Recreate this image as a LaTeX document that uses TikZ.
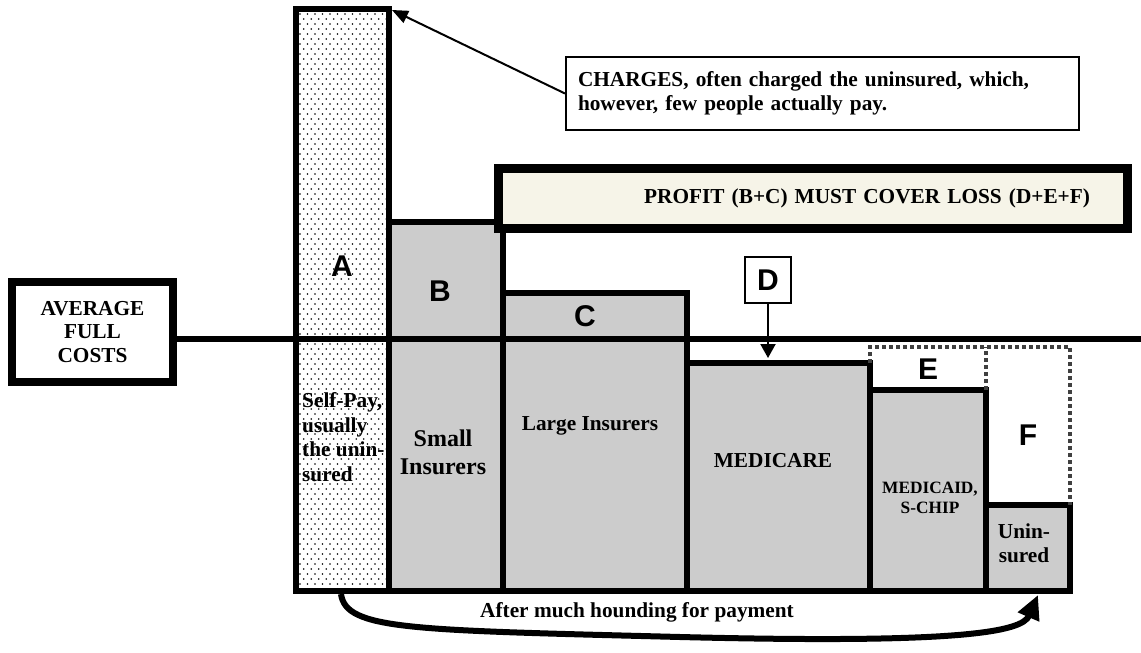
\documentclass[tikz,border=0pt]{standalone}
\usepackage{fontspec}
\setmainfont{Liberation Serif}
\newfontfamily\arialfont{Liberation Sans}
\usetikzlibrary{arrows.meta}

\definecolor{barfill}{RGB}{204,204,204}
\definecolor{profitfill}{RGB}{246,244,232}

\newcommand{\txtsize}{\fontsize{21.3}{24.5}\selectfont}
\newcommand{\lettersize}{\fontsize{30}{34}\selectfont}

\tikzset{
  barrect/.style={draw, line width=5.5pt, fill=barfill},
  bigletter/.style={font=\arialfont\bfseries\lettersize, inner sep=0pt},
  barlabel/.style={font=\bfseries\txtsize, align=center, inner sep=0pt},
  dotline/.style={line width=4pt, dash pattern=on 4pt off 3pt, black!75},
}

\begin{document}
\begin{tikzpicture}[x=1pt, y=-1pt]
\useasboundingbox (0,0) rectangle (1141,653);
\def \base {591}

% bar A, dotted
\fill[white] (296,\base) rectangle (389,9);
\begin{scope}
\clip (299,12) rectangle (386,588);
\foreach \r in {0,...,116}
  \foreach \c in {0,...,12}
    \fill[black] ({300+\c*7.5+mod(\r,2)*3.75},{14+\r*5}) circle[radius=0.95pt];
\end{scope}
\draw[line width=5.5pt] (296,\base) rectangle (389,9);

% payer bars
\draw[barrect] (389,\base) rectangle (503,222);
\draw[barrect] (503,\base) rectangle (687,293);
\draw[barrect] (687,\base) rectangle (870,363);
\draw[barrect] (870,\base) rectangle (986,390);
\draw[barrect] (986,\base) rectangle (1070,505);

% average full costs
\node[draw, line width=8pt, fill=white, minimum width=161pt, minimum height=100pt,
      barlabel, font=\bfseries\fontsize{21.3}{23.5}\selectfont] (avg) at (92.5,332) {AVERAGE\\FULL\\COSTS};
\coordinate (lineR) at (1141,339);
\draw[line width=6pt] (avg.east |- lineR) -- (lineR);

% losses E and F
\draw[dotline] (870,363) -- (870,347) -- (1070,347) -- (1070,505);
\draw[dotline] (986,390) -- (986,347);

% letters
\node[bigletter] (lA) at (342,266) {A};
\node[bigletter] (lB) at (440,291) {B};
\node[bigletter] (lC) at (585,316) {C};
\node[bigletter] (lE) at (928,369) {E};
\node[bigletter] (lF) at (1028,435) {F};
\node[draw, line width=2pt, fill=white, minimum size=46pt, bigletter] (dbox) at (768,280) {D};
\coordinate (dTip) at (768,358);
\draw[line width=2pt, -{Triangle[length=14pt,width=15pt]}] (dbox) -- (dTip);

% bar labels
\node[barlabel, align=left, anchor=west] (selfpay) at (302,437) {Self-Pay,\\usually\\the unin-\\sured};
\node[barlabel, font=\bfseries\fontsize{24}{28}\selectfont] (small) at (443,452) {Small\\Insurers};
\node[barlabel] (large) at (590,426) {Large Insurers};
\node[barlabel] (medicare) at (773,461) {MEDICARE};
\node[barlabel, font=\bfseries\fontsize{17.3}{20.5}\selectfont] (medicaid) at (930,498) {MEDICAID,\\S-CHIP};
\node[barlabel] (unins) at (1024,543) {Unin-\\sured};

% callouts
\node[draw, line width=2pt, fill=white, minimum width=513pt, minimum height=73pt, inner xsep=12pt,
      text width=489pt, align=left, font=\bfseries\txtsize] (charges) at (822.5,93.5)
      {CHARGES, often charged the uninsured, which,\\however, few people actually pay.};
\coordinate (aTop) at (392,10);
\draw[line width=2pt, -{Triangle[length=16pt,width=13pt]}] (charges.west) -- (aTop);

\node[draw, line width=9pt, fill=profitfill, minimum height=60pt, inner xsep=37.5pt,
      text width=554pt, align=right, font=\bfseries\txtsize] (profit) at (813,198.5)
      {PROFIT (B+C) MUST COVER LOSS (D+E+F)};

% collection arrow
\coordinate (payS) at (341,594);
\coordinate (payE) at (1038,595);
\draw[line width=6pt, -{Triangle[length=24pt,width=22pt]}] (payS)
  .. controls (346,630) and (410,630) .. (680,637)
  .. controls (960,644) and (1022,632) .. (payE);
\node[barlabel] (hound) at (637,612) {After much hounding for payment};
\end{tikzpicture}
\end{document}
